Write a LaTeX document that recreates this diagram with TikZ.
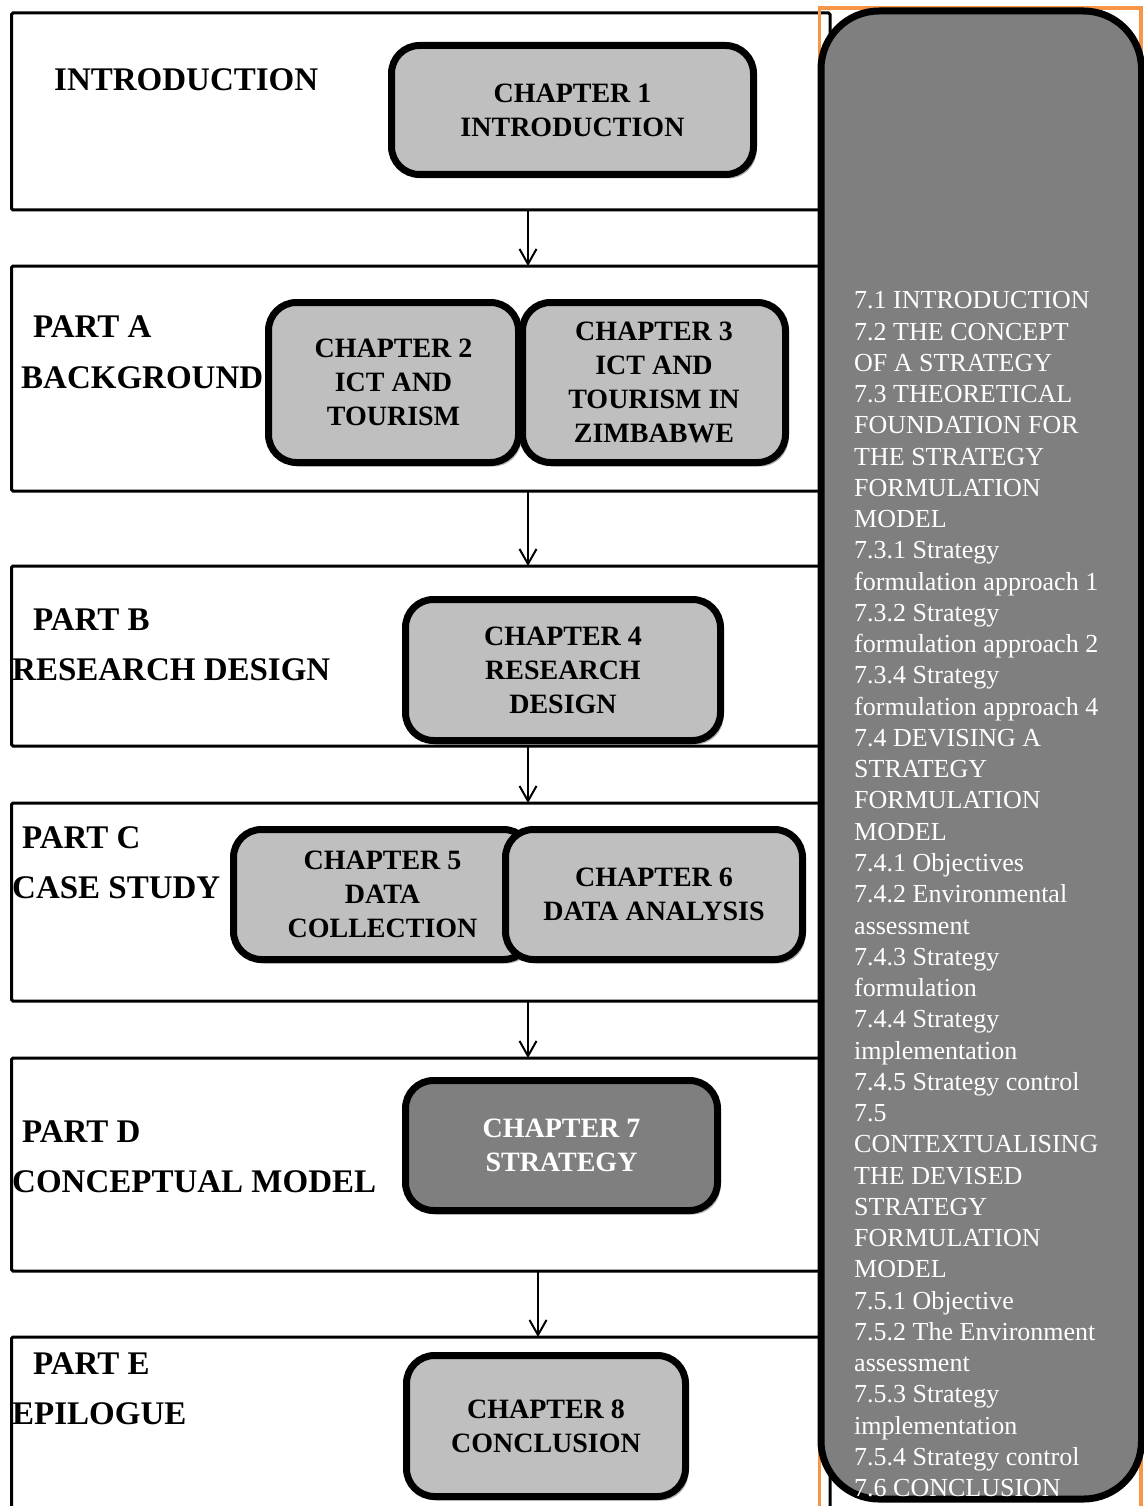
\documentclass[tikz,border=0pt]{standalone}
\usepackage{fontspec}
\setmainfont{Liberation Serif}
\usetikzlibrary{arrows.meta,shadows}

\definecolor{chapfill}{HTML}{BFBFBF}
\definecolor{darkfill}{HTML}{7F7F7F}
\definecolor{frameorange}{HTML}{F79646}

\tikzset{
  partbox/.style={draw, line width=3pt, rounded corners=1.5pt, rectangle,
    anchor=north west, inner sep=0pt, outer sep=0pt, minimum width=818.5pt},
  partlabel/.style={anchor=west, inner sep=0pt,
    font=\fontsize{33}{40}\selectfont\bfseries},
  chapter/.style={draw, line width=7pt, rounded corners=28pt, fill=chapfill,
    align=center, inner sep=0pt, outer sep=0pt,
    font=\fontsize{28}{34}\selectfont\bfseries,
    drop shadow={shadow xshift=3pt, shadow yshift=-4pt, fill=black, opacity=0.3}},
  darkchapter/.style={chapter, fill=darkfill, text=white},
  flow/.style={line width=2pt, -{Straight Barb[length=15pt,width=17pt]}},
  contents/.style={anchor=north west, inner sep=0pt, align=left, text=white,
    font=\fontsize{26}{31.26}\selectfont},
}

\begin{document}
\begin{tikzpicture}[x=1pt,y=-1pt]
\useasboundingbox (0,0) rectangle (1143,1506);

% part frames
\node[partbox, minimum height=197pt] (intro) at (11.5,13) {};
\node[partbox, minimum height=225pt] (partA) at (11.5,266) {};
\node[partbox, minimum height=180pt] (partB) at (11.5,566) {};
\node[partbox, minimum height=198pt] (partC) at (11.5,803) {};
\node[partbox, minimum height=213pt] (partD) at (11.5,1058) {};
\node[partbox, minimum height=203pt] (partE) at (11.5,1337) {};

% part titles
\node[partlabel] (lintro) at (54,80) {INTRODUCTION};
\node[partlabel] (lA1) at (33,327) {PART A};
\node[partlabel] (lA2) at (21,378) {BACKGROUND};
\node[partlabel] (lB1) at (33,620) {PART B};
\node[partlabel] (lB2) at (12,670) {RESEARCH DESIGN};
\node[partlabel] (lC1) at (22,838) {PART C};
\node[partlabel] (lC2) at (12,888) {CASE STUDY};
\node[partlabel] (lD1) at (22,1132) {PART D};
\node[partlabel] (lD2) at (12,1182) {CONCEPTUAL MODEL};
\node[partlabel] (lE1) at (33,1364) {PART E};
\node[partlabel] (lE2) at (12,1414) {EPILOGUE};

% chapters
\node[chapter, minimum width=362pt, minimum height=129pt] (ch1) at (572.5,110) {CHAPTER 1\\INTRODUCTION};
\node[chapter, minimum width=250pt, minimum height=160pt] (ch2) at (393.5,382.5) {CHAPTER 2\\ICT AND\\TOURISM};
\node[chapter, minimum width=263pt, minimum height=160pt] (ch3) at (654,382.5) {CHAPTER 3\\ICT AND\\TOURISM IN\\ZIMBABWE};
\node[chapter, minimum width=315pt, minimum height=141pt] (ch4) at (563,670) {CHAPTER 4\\RESEARCH\\DESIGN};
\node[chapter, minimum width=298pt, minimum height=130pt] (ch5) at (382.5,894.5) {CHAPTER 5\\DATA\\COLLECTION};
\node[chapter, minimum width=297pt, minimum height=130pt] (ch6) at (654,894.5) {CHAPTER 6\\DATA ANALYSIS};
\node[darkchapter, minimum width=312pt, minimum height=130pt] (ch7) at (561.5,1145.5) {CHAPTER 7\\STRATEGY};
\node[chapter, minimum width=279pt, minimum height=141pt] (ch8) at (546,1426) {CHAPTER 8\\CONCLUSION};

% flow between parts
\coordinate (axis) at (528,0);
\coordinate (axisE) at (538,0);
\draw[flow] (intro.south -| axis) -- (partA.north -| axis);
\draw[flow] (partA.south -| axis) -- (partB.north -| axis);
\draw[flow] (partB.south -| axis) -- (partC.north -| axis);
\draw[flow] (partC.south -| axis) -- (partD.north -| axis);
\draw[flow] (partD.south -| axisE) -- (partE.north -| axisE);

% chapter 7 contents panel
\draw[frameorange, line width=3.5pt] (819.5,8) rectangle (1141,1530);
\draw[line width=7pt, fill=darkfill, rounded corners=58pt]
  (821,11) rectangle (1141.5,1499);
\node[contents] (toc) at (854,291.4) {7.1 INTRODUCTION\\
7.2 THE CONCEPT\\
OF A STRATEGY\\
7.3 THEORETICAL\\
FOUNDATION FOR\\
THE STRATEGY\\
FORMULATION\\
MODEL\\
7.3.1 Strategy\\
formulation approach 1\\
7.3.2 Strategy\\
formulation approach 2\\
7.3.4 Strategy\\
formulation approach 4\\
7.4 DEVISING A\\
STRATEGY\\
FORMULATION\\
MODEL\\
7.4.1 Objectives\\
7.4.2 Environmental\\
assessment\\
7.4.3 Strategy\\
formulation\\
7.4.4 Strategy\\
implementation\\
7.4.5 Strategy control\\
7.5\\
CONTEXTUALISING\\
THE DEVISED\\
STRATEGY\\
FORMULATION\\
MODEL\\
7.5.1 Objective\\
7.5.2 The Environment\\
assessment\\
7.5.3 Strategy\\
implementation\\
7.5.4 Strategy control\\
7.6 CONCLUSION};
\end{tikzpicture}
\end{document}
